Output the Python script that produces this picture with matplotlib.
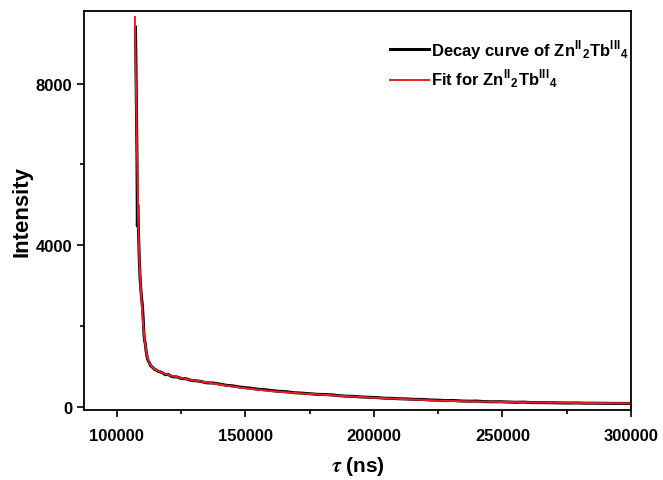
import matplotlib
matplotlib.use("Agg")
import matplotlib.pyplot as plt
from matplotlib.ticker import MultipleLocator

# values
decay_t = [107300, 107500, 107700, 107900, 108050, 108200, 108500, 108800, 109100, 109400,
           109700, 110000, 110300, 110600, 110900, 111100, 111400, 111700, 112000, 112400,
           112800, 113200, 113700, 114200, 114800, 115500, 116200, 117000, 118000, 119000,
           120000, 121000, 122000, 123500, 125000, 127000, 129000, 131000, 133000, 135000,
           137500, 140000, 142500, 145000, 147500, 150000, 152500, 155000, 157500, 160000,
           163000, 166000, 169000, 172000, 175000, 178000, 181000, 184000, 186000, 189000,
           192000, 195000, 198000, 201000, 204000, 207000, 210000, 213000, 216000, 219000,
           222000, 225000, 228000, 231000, 234000, 237000, 240000, 243000, 246000, 249000,
           252000, 255000, 258000, 261000, 264000, 267000, 270000, 273000, 276000, 279000,
           282000, 285000, 288000, 291000, 294000, 297000, 300000]
decay_i = [9400, 8500, 7300, 6200, 4480, 5000, 4300, 3650, 3200, 2900,
           2680, 2500, 2200, 1800, 1620, 1580, 1400, 1280, 1180, 1120,
           1080, 1010, 990, 960, 920, 905, 870, 860, 830, 790,
           800, 760, 740, 735, 700, 690, 650, 640, 620, 590,
           585, 560, 530, 515, 490, 470, 455, 430, 420, 400,
           380, 370, 345, 335, 320, 305, 300, 290, 275, 260,
           255, 240, 232, 225, 210, 205, 195, 190, 180, 178,
           165, 160, 150, 152, 140, 135, 138, 125, 120, 122,
           115, 108, 112, 102, 100, 98, 96, 92, 90, 92,
           86, 86, 84, 82, 80, 80, 78]

fit_t = [107100, 107400, 107700, 108000, 108400, 108800, 109300, 109800, 110300, 110800,
         111300, 111900, 112600, 113500, 114800, 116500, 118500, 121000, 125000, 130000,
         137500, 145000, 152000, 160000, 170000, 180000, 190000, 200000, 212500, 225000,
         237500, 250000, 262500, 275000, 287500, 300000]
fit_i = [9650, 8400, 7200, 6000, 4550, 3700, 3000, 2500, 2050, 1700,
         1450, 1230, 1100, 1000, 930, 870, 820, 770, 710, 650,
         575, 500, 440, 385, 335, 295, 255, 220, 185, 150,
         130, 115, 105, 95, 88, 82]

legend_labels = [r'Decay curve of Zn$^{\mathregular{II}}$$_{\mathregular{2}}$Tb$^{\mathregular{III}}$$_{\mathregular{4}}$',
                 r'Fit for Zn$^{\mathregular{II}}$$_{\mathregular{2}}$Tb$^{\mathregular{III}}$$_{\mathregular{4}}$']

plt.rcParams['font.family'] = ['Liberation Sans', 'DejaVu Sans']
plt.rcParams['font.weight'] = 'bold'
plt.rcParams['mathtext.fontset'] = 'stix'

fig = plt.figure(figsize=(6.63, 4.81), dpi=100)
ax = fig.add_axes([0.1267, 0.1462, 0.825, 0.8282])

ax.plot(decay_t, decay_i, color='black', lw=2.2, label=legend_labels[0])
ax.plot(fit_t, fit_i, color='#e8202a', lw=1.4, label=legend_labels[1])

ax.set_xlim(87300, 300000)
ax.set_ylim(-75, 9790)
ax.xaxis.set_major_locator(MultipleLocator(50000))
ax.xaxis.set_minor_locator(MultipleLocator(25000))
ax.yaxis.set_major_locator(MultipleLocator(4000))
ax.yaxis.set_minor_locator(MultipleLocator(2000))
ax.tick_params(which='both', direction='out', width=1.2, labelsize=12)
ax.tick_params(which='major', length=5)
ax.tick_params(which='minor', length=3)
ax.tick_params(axis='x', pad=8)
for sp in ax.spines.values():
    sp.set_linewidth(1.3)

ax.set_xlabel(r'$\tau$ (ns)', fontsize=15, fontweight='bold', labelpad=8)
ax.set_ylabel('Intensity', fontsize=16, fontweight='bold', labelpad=2)

ax.legend(loc='upper left', bbox_to_anchor=(0.545, 0.955), frameon=False,
          fontsize=12, borderpad=0, handlelength=2.3, handletextpad=0.15,
          labelspacing=0.45)

fig.savefig('out.png', dpi=100)
